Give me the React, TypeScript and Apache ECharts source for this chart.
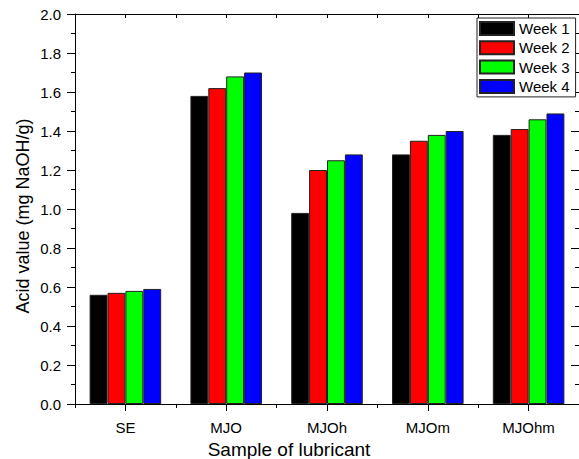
import React, { useEffect, useRef } from "react";
import * as echarts from "echarts";

const categories = ["SE", "MJO", "MJOh", "MJOm", "MJOhm"];
const seriesNames = ["Week 1", "Week 2", "Week 3", "Week 4"];
const week1 = [0.56, 1.58, 0.98, 1.28, 1.38];
const week2 = [0.57, 1.62, 1.2, 1.35, 1.41];
const week3 = [0.58, 1.68, 1.25, 1.38, 1.46];
const week4 = [0.59, 1.7, 1.28, 1.4, 1.49];
const seriesValues = [week1, week2, week3, week4];
const seriesColors = ["#000000", "#ff0000", "#00ff00", "#0000ff"];
const xTitle = "Sample of lubricant";
const yTitle = "Acid value (mg NaOH/g)";

const FONT = "'Liberation Sans', Arial, sans-serif";

export default function App() {
  const ref = useRef<HTMLDivElement>(null);
  useEffect(() => {
    if (!ref.current) return;
    const chart = echarts.init(ref.current, undefined, { renderer: "svg" });
    const axisLine = { show: true, lineStyle: { color: "#000", width: 1 } };
    const baseX = {
      type: "category" as const,
      data: categories,
      gridIndex: 0,
      boundaryGap: true,
      axisLine,
      splitLine: { show: false },
    };
    chart.setOption({
      animation: false,
      backgroundColor: "#fff",
      textStyle: { fontFamily: FONT },
      grid: { left: 75, top: 14, width: 510, height: 390, containLabel: false },
      legend: {
        orient: "vertical",
        left: 477,
        top: 18,
        padding: [3, 6, 3, 2],
        itemWidth: 34,
        itemHeight: 13,
        itemGap: 4.3,
        backgroundColor: "#fff",
        borderColor: "#222",
        borderWidth: 1,
        borderRadius: 0,
        icon: "rect",
        textStyle: { fontFamily: FONT, fontSize: 15, color: "#000", lineHeight: 15 },
        data: seriesNames,
        z: 10,
      },
      xAxis: [
        {
          ...baseX,
          position: "bottom",
          axisTick: { show: true, alignWithLabel: true, inside: false, length: 7, lineStyle: { color: "#000" } },
          axisLabel: { show: true, margin: 16, fontSize: 15, color: "#000", fontFamily: FONT },
        },
        {
          ...baseX,
          position: "bottom",
          axisTick: { show: true, alignWithLabel: false, inside: false, length: 4, lineStyle: { color: "#000" } },
          axisLabel: { show: false },
        },
        {
          ...baseX,
          position: "top",
          axisTick: { show: true, alignWithLabel: true, inside: true, length: 4, lineStyle: { color: "#000" } },
          axisLabel: { show: false },
        },
        {
          ...baseX,
          position: "top",
          axisTick: { show: true, alignWithLabel: false, inside: true, length: 4, lineStyle: { color: "#000" } },
          axisLabel: { show: false },
        },
      ],
      yAxis: [
        {
          type: "value",
          position: "left",
          min: 0,
          max: 2,
          interval: 0.2,
          axisLine,
          axisTick: { show: true, inside: false, length: 8, lineStyle: { color: "#000" } },
          minorTick: { show: true, splitNumber: 2, length: 4, lineStyle: { color: "#000" } },
          splitLine: { show: false },
          axisLabel: {
            show: true,
            margin: 14,
            fontSize: 15,
            color: "#000",
            fontFamily: FONT,
            formatter: (v: number) => v.toFixed(1),
          },
        },
        {
          type: "value",
          position: "right",
          min: 0,
          max: 2,
          interval: 0.2,
          axisLine,
          axisTick: { show: true, inside: true, length: 8, lineStyle: { color: "#000" } },
          minorTick: { show: true, splitNumber: 2, length: 4, lineStyle: { color: "#000" } },
          splitLine: { show: false },
          axisLabel: { show: false },
        },
      ],
      series: seriesNames.map((name, i) => ({
        name,
        type: "bar",
        xAxisIndex: 0,
        yAxisIndex: 0,
        data: seriesValues[i],
        barGap: "0%",
        barCategoryGap: "29%",
        itemStyle: { color: seriesColors[i], borderColor: "#222", borderWidth: 1 },
      })),
      graphic: [
        {
          type: "text",
          x: 289,
          y: 449,
          style: {
            text: xTitle,
            fontSize: 19,
            fontFamily: FONT,
            fill: "#000",
            align: "center",
            verticalAlign: "middle",
          },
        },
        {
          type: "text",
          x: 23,
          y: 216,
          rotation: Math.PI / 2,
          style: {
            text: yTitle,
            fontSize: 18,
            fontFamily: FONT,
            fill: "#000",
            align: "center",
            verticalAlign: "middle",
          },
        },
      ],
    });
    return () => chart.dispose();
  }, []);
  return (
    <div
      ref={ref}
      style={{ position: "fixed", left: 0, top: 0, width: 579, height: 459, background: "#fff" }}
    />
  );
}
